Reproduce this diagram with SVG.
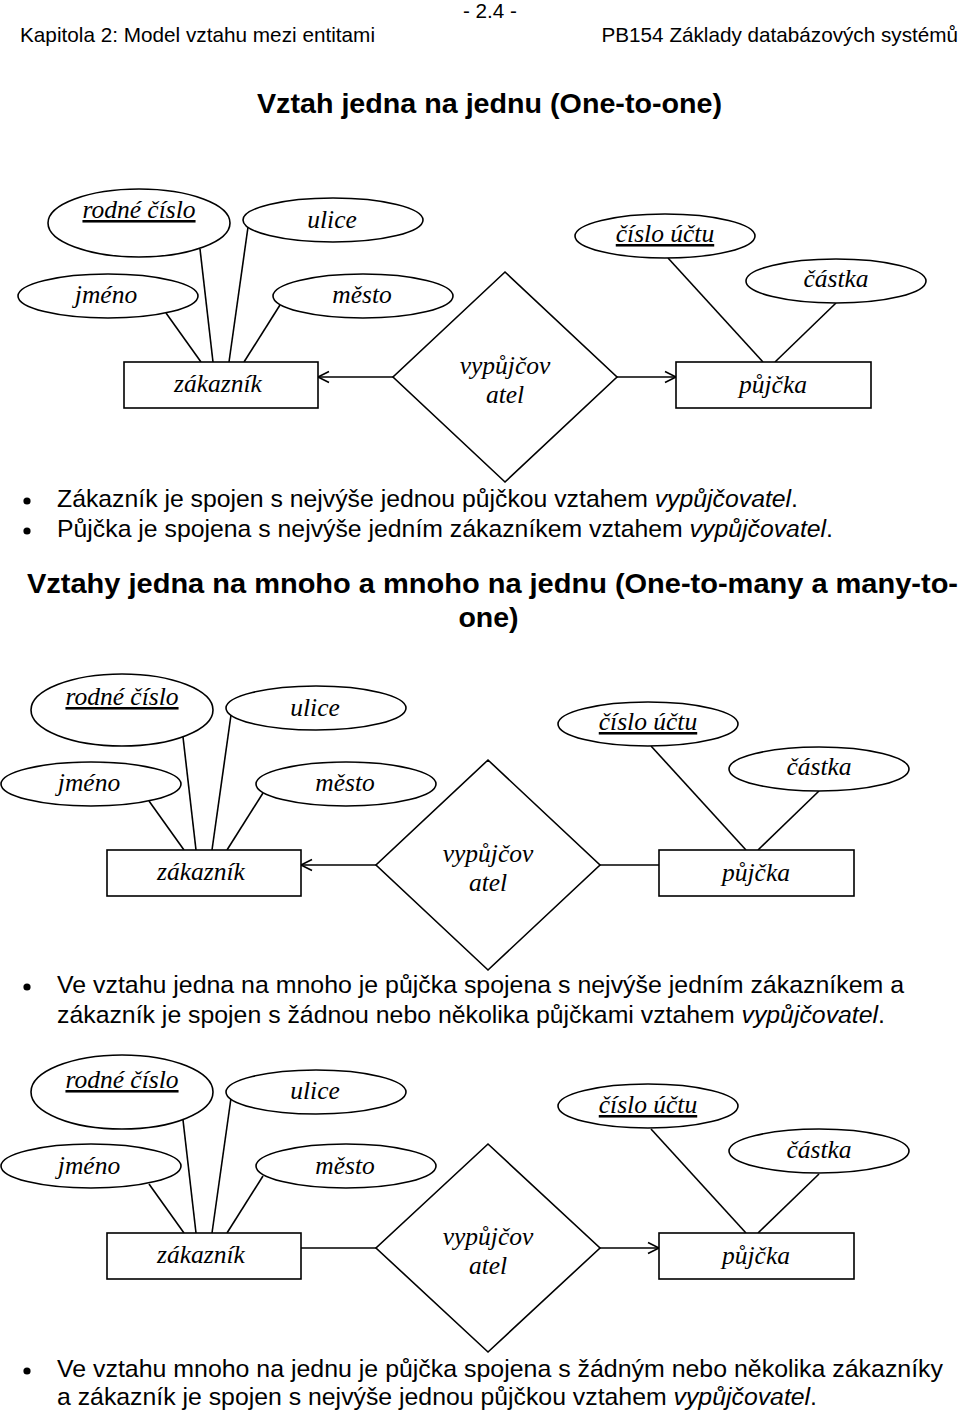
<svg xmlns="http://www.w3.org/2000/svg" width="960" height="1414" viewBox="0 0 960 1414">
<style>
.hd{font-family:"Liberation Sans",Arial,sans-serif;font-size:20.7px;fill:#000}
.ttl{font-family:"Liberation Sans",Arial,sans-serif;font-size:28.5px;font-weight:bold;fill:#000}
.bt{font-family:"Liberation Sans",Arial,sans-serif;font-size:24.6px;fill:#000}
.it{font-style:italic}
.er{font-family:"Liberation Serif","Times New Roman",serif;font-size:25.5px;font-style:italic;fill:#000;text-anchor:middle}
.u{text-decoration:underline}
.shp{fill:#fff;stroke:#000;stroke-width:1.6}
.cn{stroke:#000;stroke-width:1.6;fill:none}
.arr{marker-end:url(#ah)}
</style>
<defs>
<marker id="ah" viewBox="-13 -7 15 14" markerUnits="userSpaceOnUse" markerWidth="15" markerHeight="14" refX="0" refY="0" orient="auto">
<path d="M-11,-5.5 L0,0 L-11,5.5" fill="none" stroke="#000" stroke-width="1.6"/>
</marker>
</defs>
<rect width="960" height="1414" fill="#fff"/>

<g id="header">
<text class="hd" x="490" y="18" text-anchor="middle">- 2.4 -</text>
<text class="hd" x="20" y="42" textLength="355" lengthAdjust="spacingAndGlyphs">Kapitola 2: Model vztahu mezi entitami</text>
<text class="hd" x="958" y="42" text-anchor="end">PB154 Základy databázových systémů</text>
</g>

<text class="ttl" x="489.5" y="113" text-anchor="middle" textLength="465" lengthAdjust="spacingAndGlyphs">Vztah jedna na jednu (One-to-one)</text>

<!-- Diagram 1 -->
<g id="diagram1">
<g id="d1-connectors">
<line class="cn" x1="200" y1="249" x2="213" y2="362"/>
<line class="cn" x1="248" y1="227" x2="229" y2="362"/>
<line class="cn" x1="166" y1="313" x2="201" y2="362"/>
<line class="cn" x1="280" y1="305" x2="244" y2="362"/>
<line class="cn" x1="668" y1="258" x2="763" y2="362"/>
<line class="cn" x1="836" y1="303" x2="775" y2="362"/>
<line class="cn arr" x1="393" y1="377" x2="318" y2="377"/>
<line class="cn arr" x1="617" y1="377" x2="676" y2="377"/>
</g>
<g id="d1-rodne-cislo"><ellipse class="shp" cx="139" cy="223" rx="91" ry="34"/><text class="er u" x="139" y="218">rodné číslo</text></g>
<g id="d1-ulice"><ellipse class="shp" cx="333" cy="220" rx="90" ry="22"/><text class="er" x="332" y="228">ulice</text></g>
<g id="d1-jmeno"><ellipse class="shp" cx="108" cy="296" rx="90" ry="22"/><text class="er" x="106" y="303">jméno</text></g>
<g id="d1-mesto"><ellipse class="shp" cx="363" cy="296" rx="90" ry="22"/><text class="er" x="362" y="303">město</text></g>
<g id="d1-zakaznik"><rect class="shp" x="124" y="362" width="194" height="46"/><text class="er" x="218" y="392">zákazník</text></g>
<g id="d1-vypujcovatel"><polygon class="shp" points="505,272 617,377 505,482 393,377"/><text class="er" x="505" y="374">vypůjčov</text><text class="er" x="505" y="403">atel</text></g>
<g id="d1-cislo-uctu"><ellipse class="shp" cx="665" cy="236" rx="90" ry="22"/><text class="er u" x="665" y="242">číslo účtu</text></g>
<g id="d1-castka"><ellipse class="shp" cx="836" cy="281" rx="90" ry="22"/><text class="er" x="836" y="287">částka</text></g>
<g id="d1-pujcka"><rect class="shp" x="676" y="362" width="195" height="46"/><text class="er" x="773" y="393">půjčka</text></g>
</g>

<g id="bullets1">
<circle cx="27" cy="501" r="3.6" fill="#000"/>
<text class="bt" x="57" y="507" textLength="741" lengthAdjust="spacingAndGlyphs">Zákazník je spojen s nejvýše jednou půjčkou vztahem <tspan class="it">vypůjčovatel</tspan>.</text>
<circle cx="27" cy="531" r="3.6" fill="#000"/>
<text class="bt" x="57" y="537" textLength="776" lengthAdjust="spacingAndGlyphs">Půjčka je spojena s nejvýše jedním zákazníkem vztahem <tspan class="it">vypůjčovatel</tspan>.</text>
</g>

<text class="ttl" x="27" y="593" textLength="931" lengthAdjust="spacingAndGlyphs">Vztahy jedna na mnoho a mnoho na jednu (One-to-many a many-to-</text>
<text class="ttl" x="488.5" y="627" text-anchor="middle">one)</text>

<!-- Diagram 2 -->
<g id="diagram2" transform="translate(-17,488)">
<g id="d2-connectors">
<line class="cn" x1="200" y1="249" x2="213" y2="362"/>
<line class="cn" x1="248" y1="227" x2="229" y2="362"/>
<line class="cn" x1="166" y1="313" x2="201" y2="362"/>
<line class="cn" x1="280" y1="305" x2="244" y2="362"/>
<line class="cn" x1="668" y1="258" x2="763" y2="362"/>
<line class="cn" x1="836" y1="303" x2="775" y2="362"/>
<line class="cn arr" x1="393" y1="377" x2="318" y2="377"/>
<line class="cn" x1="617" y1="377" x2="676" y2="377"/>
</g>
<g id="d2-rodne-cislo"><ellipse class="shp" cx="139" cy="222" rx="91" ry="36"/><text class="er u" x="139" y="217">rodné číslo</text></g>
<g id="d2-ulice"><ellipse class="shp" cx="333" cy="220" rx="90" ry="22"/><text class="er" x="332" y="228">ulice</text></g>
<g id="d2-jmeno"><ellipse class="shp" cx="108" cy="296" rx="90" ry="22"/><text class="er" x="106" y="303">jméno</text></g>
<g id="d2-mesto"><ellipse class="shp" cx="363" cy="296" rx="90" ry="22"/><text class="er" x="362" y="303">město</text></g>
<g id="d2-zakaznik"><rect class="shp" x="124" y="362" width="194" height="46"/><text class="er" x="218" y="392">zákazník</text></g>
<g id="d2-vypujcovatel"><polygon class="shp" points="505,272 617,377 505,482 393,377"/><text class="er" x="505" y="374">vypůjčov</text><text class="er" x="505" y="403">atel</text></g>
<g id="d2-cislo-uctu"><ellipse class="shp" cx="665" cy="236" rx="90" ry="22"/><text class="er u" x="665" y="242">číslo účtu</text></g>
<g id="d2-castka"><ellipse class="shp" cx="836" cy="281" rx="90" ry="22"/><text class="er" x="836" y="287">částka</text></g>
<g id="d2-pujcka"><rect class="shp" x="676" y="362" width="195" height="46"/><text class="er" x="773" y="393">půjčka</text></g>
</g>

<g id="bullets2">
<circle cx="27" cy="987" r="3.6" fill="#000"/>
<text class="bt" x="57" y="993" textLength="847" lengthAdjust="spacingAndGlyphs">Ve vztahu jedna na mnoho je půjčka spojena s nejvýše jedním zákazníkem a</text>
<text class="bt" x="57" y="1023" textLength="828" lengthAdjust="spacingAndGlyphs">zákazník je spojen s žádnou nebo několika půjčkami vztahem <tspan class="it">vypůjčovatel</tspan>.</text>
</g>

<!-- Diagram 3 -->
<g id="diagram3" transform="translate(-17,871)">
<g id="d3-connectors">
<line class="cn" x1="200" y1="249" x2="213" y2="362"/>
<line class="cn" x1="248" y1="227" x2="229" y2="362"/>
<line class="cn" x1="166" y1="313" x2="201" y2="362"/>
<line class="cn" x1="280" y1="305" x2="244" y2="362"/>
<line class="cn" x1="668" y1="258" x2="763" y2="362"/>
<line class="cn" x1="836" y1="303" x2="775" y2="362"/>
<line class="cn" x1="318" y1="377" x2="393" y2="377"/>
<line class="cn arr" x1="617" y1="377" x2="676" y2="377"/>
</g>
<g id="d3-rodne-cislo"><ellipse class="shp" cx="139" cy="221" rx="91" ry="37"/><text class="er u" x="139" y="217">rodné číslo</text></g>
<g id="d3-ulice"><ellipse class="shp" cx="333" cy="221" rx="90" ry="22"/><text class="er" x="332" y="228">ulice</text></g>
<g id="d3-jmeno"><ellipse class="shp" cx="108" cy="295" rx="90" ry="22"/><text class="er" x="106" y="303">jméno</text></g>
<g id="d3-mesto"><ellipse class="shp" cx="363" cy="295" rx="90" ry="22"/><text class="er" x="362" y="303">město</text></g>
<g id="d3-zakaznik"><rect class="shp" x="124" y="362" width="194" height="46"/><text class="er" x="218" y="392">zákazník</text></g>
<g id="d3-vypujcovatel"><polygon class="shp" points="505,273 617,377 505,481 393,377"/><text class="er" x="505" y="374">vypůjčov</text><text class="er" x="505" y="403">atel</text></g>
<g id="d3-cislo-uctu"><ellipse class="shp" cx="665" cy="235" rx="90" ry="22"/><text class="er u" x="665" y="242">číslo účtu</text></g>
<g id="d3-castka"><ellipse class="shp" cx="836" cy="280" rx="90" ry="22"/><text class="er" x="836" y="287">částka</text></g>
<g id="d3-pujcka"><rect class="shp" x="676" y="362" width="195" height="46"/><text class="er" x="773" y="393">půjčka</text></g>
</g>

<g id="bullets3">
<circle cx="27" cy="1371" r="3.6" fill="#000"/>
<text class="bt" x="57" y="1377" textLength="886" lengthAdjust="spacingAndGlyphs">Ve vztahu mnoho na jednu je půjčka spojena s žádným nebo několika zákazníky</text>
<text class="bt" x="57" y="1405" textLength="760" lengthAdjust="spacingAndGlyphs">a zákazník je spojen s nejvýše jednou půjčkou vztahem <tspan class="it">vypůjčovatel</tspan>.</text>
</g>
</svg>
